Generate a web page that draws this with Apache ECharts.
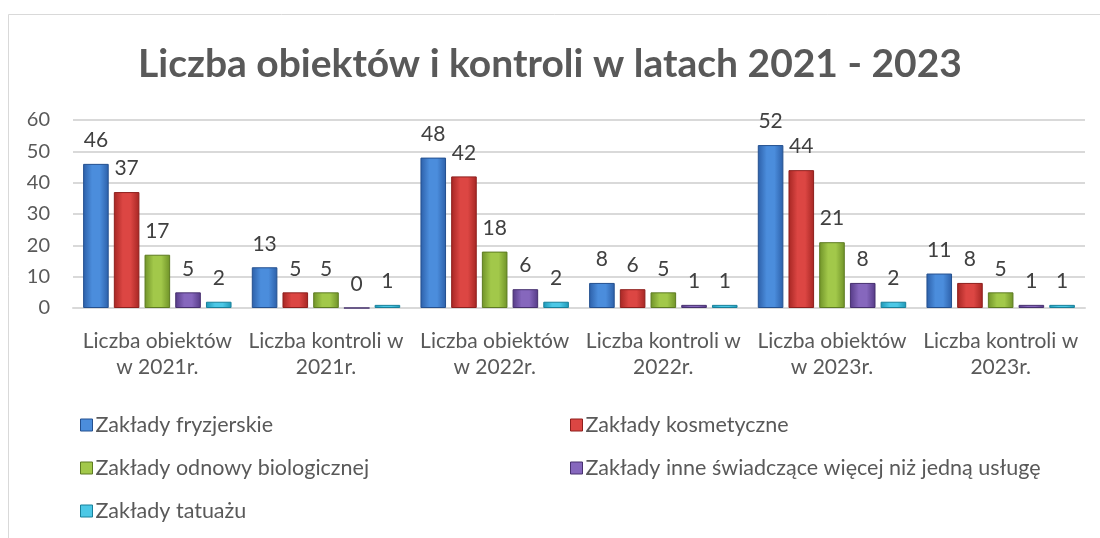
<!DOCTYPE html>
<html>
<head>
<meta charset="utf-8">
<script src="https://cdn.jsdelivr.net/npm/echarts@6/dist/echarts.min.js"></script>
<style>
  html, body { margin: 0; padding: 0; background: #fff; }
  #main { width: 1100px; height: 538px; }
</style>
</head>
<body>
<div id="main"></div>
<script>
var categories = [
    'Liczba obiektów\nw 2021r.', 'Liczba kontroli w\n2021r.',
    'Liczba obiektów\nw 2022r.', 'Liczba kontroli w\n2022r.',
    'Liczba obiektów\nw 2023r.', 'Liczba kontroli w\n2023r.'
];
var fryzjerskie = [46, 13, 48, 8, 52, 11];
var kosmetyczne = [37, 5, 42, 6, 44, 8];
var odnowy = [17, 5, 18, 5, 21, 5];
var inne = [5, 0, 6, 1, 8, 1];
var tatuazu = [2, 1, 2, 1, 2, 1];
var seriesNames = [
    'Zakłady fryzjerskie',
    'Zakłady kosmetyczne',
    'Zakłady odnowy biologicznej',
    'Zakłady inne świadczące więcej niż jedną usługę',
    'Zakłady tatuażu'
];

var font = 'Lato, "Open Sans", sans-serif';
// [dark edge, light centre, border]
var palettes = [
    ['#2c5fa8', '#4b8ddc', '#24508f'],
    ['#a52623', '#dc4643', '#8e1f1d'],
    ['#6f9228', '#a2c84a', '#5d7b21'],
    ['#553a86', '#8667bd', '#47306f'],
    ['#1d97b6', '#4cc8e6', '#18809a']
];

function grad(p) {
    return new echarts.graphic.LinearGradient(0, 0, 1, 0, [
        {offset: 0, color: p[0]},
        {offset: 0.35, color: p[1]},
        {offset: 0.65, color: p[1]},
        {offset: 1, color: p[0]}
    ]);
}

var myChart = echarts.init(document.getElementById('main'));
var allData = [fryzjerskie, kosmetyczne, odnowy, inne, tatuazu];

var series = allData.map(function (d, i) {
    return {
        name: seriesNames[i],
        type: 'bar',
        data: d,
        barGap: '20%',
        barCategoryGap: '12%',
        itemStyle: {
            color: grad(palettes[i]),
            borderColor: palettes[i][2],
            borderWidth: 1
        },
        label: {
            show: true,
            position: 'top',
            distance: 13,
            color: '#404040',
            fontSize: 21,
            fontFamily: font
        }
    };
});

var legendPos = [
    {left: 75, top: 409},
    {left: 565, top: 409},
    {left: 75, top: 452},
    {left: 565, top: 452},
    {left: 75, top: 495}
];

var legends = seriesNames.map(function (n, i) {
    return {
        data: [{name: n, icon: 'rect', itemStyle: {color: palettes[i][1], borderColor: palettes[i][2], borderWidth: 1}}],
        left: legendPos[i].left,
        top: legendPos[i].top,
        itemWidth: 12,
        itemHeight: 12,
        itemGap: 4,
        selectedMode: false,
        textStyle: {color: '#595959', fontSize: 21.5, fontFamily: font, padding: [0, 0, 0, -2]}
    };
});

option = {
    backgroundColor: '#fff',
    animation: false,
    title: {
        text: 'Liczba obiektów i kontroli w latach 2021 - 2023',
        left: 'center',
        top: 40,
        textStyle: {
            color: '#595959',
            fontSize: 39,
            fontWeight: 'bold',
            fontFamily: font
        }
    },
    graphic: [{
        type: 'rect',
        shape: {x: 8.5, y: 14.5, width: 1200, height: 600},
        style: {fill: 'none', stroke: '#d9d9d9', lineWidth: 1},
        silent: true
    }],
    legend: legends,
    grid: {
        left: 73,
        right: 15,
        top: 120,
        bottom: 230
    },
    xAxis: {
        type: 'category',
        data: categories,
        axisLine: {lineStyle: {color: '#d9d9d9', width: 2}},
        axisTick: {show: false},
        axisLabel: {
            interval: 0,
            color: '#595959',
            fontSize: 21,
            fontFamily: font,
            lineHeight: 26,
            margin: 20
        }
    },
    yAxis: {
        type: 'value',
        min: 0,
        max: 60,
        interval: 10,
        axisLine: {show: false},
        axisTick: {show: false},
        axisLabel: {
            color: '#595959',
            fontSize: 20,
            fontFamily: font,
            margin: 23
        },
        splitLine: {lineStyle: {color: '#d9d9d9', width: 2}}
    },
    series: series
};
myChart.setOption(option);
window.onresize = myChart.resize;
</script>
</body>
</html>
